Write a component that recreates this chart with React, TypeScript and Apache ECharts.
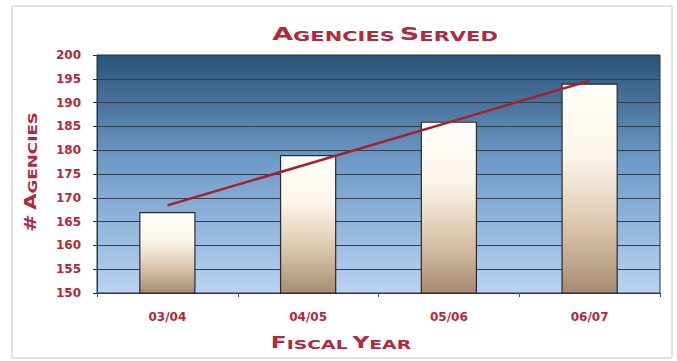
import React, { useEffect, useRef } from "react";
import * as echarts from "echarts";

const categories = ["03/04", "04/05", "05/06", "06/07"];
const agencies = [167, 179, 186, 194];
const trend = [168.4, null, null, 194.6];
const yMin = 150;
const yMax = 200;
const yStep = 5;

const RED = "#b3283c";
const FONT = "DejaVu Sans";

export default function App() {
  const ref = useRef<HTMLDivElement>(null);
  useEffect(() => {
    if (!ref.current) return;
    const chart = echarts.init(ref.current, null, { renderer: "svg" });
    chart.setOption({
      animation: false,
      backgroundColor: "#ffffff",
      graphic: [
        {
          type: "rect",
          shape: { x: 12, y: 6, width: 660, height: 352 },
          style: { fill: "none", stroke: "#c8c8c8", lineWidth: 1 },
          z: -10,
        },
        {
          type: "text",
          x: 385,
          y: 34,
          scaleX: 1.5,
          style: {
            text: "{a|A}{b|GENCIES} {a|S}{b|ERVED}",
            align: "center",
            verticalAlign: "middle",
            rich: {
              a: { fontSize: 18, fontWeight: "bold", fontFamily: FONT, fill: RED, verticalAlign: "bottom" },
              b: { fontSize: 14, fontWeight: "bold", fontFamily: FONT, fill: RED, verticalAlign: "bottom" },
            },
          },
        },
        {
          type: "text",
          x: 31,
          y: 172,
          rotation: Math.PI / 2,
          scaleX: 1.4,
          style: {
            text: "{a|#} {a|A}{b|GENCIES}",
            align: "center",
            verticalAlign: "middle",
            rich: {
              a: { fontSize: 15, fontWeight: "bold", fontFamily: FONT, fill: RED, verticalAlign: "bottom" },
              b: { fontSize: 12, fontWeight: "bold", fontFamily: FONT, fill: RED, verticalAlign: "bottom" },
            },
          },
        },
        {
          type: "text",
          x: 341,
          y: 343,
          scaleX: 1.45,
          style: {
            text: "{a|F}{b|ISCAL} {a|Y}{b|EAR}",
            align: "center",
            verticalAlign: "middle",
            rich: {
              a: { fontSize: 16, fontWeight: "bold", fontFamily: FONT, fill: RED, verticalAlign: "bottom" },
              b: { fontSize: 13, fontWeight: "bold", fontFamily: FONT, fill: RED, verticalAlign: "bottom" },
            },
          },
        },
      ],
      grid: {
        left: 97,
        right: 17,
        top: 55,
        bottom: 68,
        show: true,
        borderColor: "#2a3440",
        borderWidth: 1,
        backgroundColor: new echarts.graphic.LinearGradient(0, 0, 0, 1, [
          { offset: 0, color: "#2a5378" },
          { offset: 0.45, color: "#6f9bc8" },
          { offset: 1, color: "#b9d3f1" },
        ]),
      },
      xAxis: {
        type: "category",
        data: categories,
        axisLine: { lineStyle: { color: "#333" } },
        axisTick: { show: true, length: 4, lineStyle: { color: "#555" } },
        axisLabel: {
          color: RED,
          fontFamily: FONT,
          fontWeight: "bold",
          fontSize: 12,
          margin: 18,
        },
      },
      yAxis: {
        type: "value",
        min: yMin,
        max: yMax,
        interval: yStep,
        axisLine: { show: true, lineStyle: { color: "#333" } },
        axisTick: { show: true, length: 4, lineStyle: { color: "#333" } },
        axisLabel: {
          color: RED,
          fontFamily: FONT,
          fontWeight: "bold",
          fontSize: 12,
          margin: 16,
        },
        splitLine: { lineStyle: { color: "#2e3f52", width: 1 } },
      },
      series: [
        {
          type: "bar",
          data: agencies,
          barWidth: "40%",
          itemStyle: {
            borderColor: "#2b2b2b",
            borderWidth: 1.2,
            color: new echarts.graphic.LinearGradient(0, 0, 0, 1, [
              { offset: 0, color: "#fffefa" },
              { offset: 0.35, color: "#fcf5ea" },
              { offset: 0.7, color: "#d9c3a8" },
              { offset: 1, color: "#a78b72" },
            ]),
          },
        },
        {
          type: "line",
          data: trend,
          connectNulls: true,
          symbol: "none",
          lineStyle: { color: "#a3222e", width: 2.5 },
          z: 5,
        },
      ],
    });
    return () => chart.dispose();
  }, []);
  return <div ref={ref} style={{ width: 677, height: 361, position: "absolute", left: 0, top: 0 }} />;
}
